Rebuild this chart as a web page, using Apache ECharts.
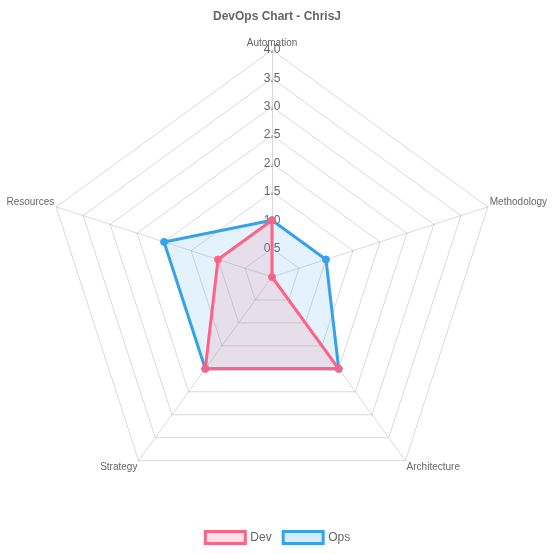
<!DOCTYPE html>
<html><head><meta charset="utf-8">
<script src="https://cdn.jsdelivr.net/npm/echarts@6/dist/echarts.min.js"></script>
<style>html,body{margin:0;padding:0;background:#fff}#c{width:554px;height:554px}</style>
</head><body><div id="c"></div>
<script>
const categories = ['Automation', 'Methodology', 'Architecture', 'Strategy', 'Resources'];
const devValues = [1, 0, 2, 2, 1];
const opsValues = [1, 1, 2, 2, 2];
const axisMax = 4;
const tickStep = 0.5;

// ECharts radar runs counter-clockwise; reorder so the categories go clockwise
const order = [0, 4, 3, 2, 1];
const pick = arr => order.map(i => arr[i]);
// label vertical nudges per category (Chart.js-like placement)
const nameStyle = { Automation: 'n', Methodology: 'up', Resources: 'up', Strategy: 'down', Architecture: 'down' };

const chart = echarts.init(document.getElementById('c'));
const font = '"Liberation Sans", Arial, Helvetica, sans-serif';
const gridColor = 'rgba(0,0,0,0.15)';
chart.setOption({
  animation: false,
  textStyle: { fontFamily: font },
  title: {
    text: 'DevOps Chart - ChrisJ', left: 'center', top: 6,
    textStyle: { fontSize: 12, fontWeight: 'bold', color: '#666', fontFamily: font }
  },
  legend: {
    bottom: 4, left: 'center', itemWidth: 40, itemHeight: 12, itemGap: 10,
    icon: 'rect',
    textStyle: { color: '#666', fontSize: 12, fontFamily: font },
    data: [
      { name: 'Dev', itemStyle: { color: 'rgba(255,99,132,0.2)', borderColor: 'rgb(255,99,132)', borderWidth: 3 } },
      { name: 'Ops', itemStyle: { color: 'rgba(54,162,235,0.2)', borderColor: 'rgb(54,162,235)', borderWidth: 3 } }
    ]
  },
  radar: {
    center: [272, 277], radius: 227, startAngle: 90, shape: 'polygon', splitNumber: axisMax / tickStep,
    indicator: pick(categories).map(n => ({ name: n, min: 0, max: axisMax })),
    axisName: {
      color: '#666', fontSize: 10, fontFamily: font,
      formatter: n => '{' + nameStyle[n] + '|' + n + '}',
      rich: {
        n: { color: '#666', fontSize: 10, fontFamily: font, padding: [0, 0, 0, 0] },
        up: { color: '#666', fontSize: 10, fontFamily: font, padding: [0, 0, 8, 0] },
        down: { color: '#666', fontSize: 10, fontFamily: font, padding: [9, 0, 0, 0] }
      }
    },
    nameGap: 2,
    splitLine: { lineStyle: { color: gridColor, width: 1 } },
    splitArea: { show: false },
    axisLine: { lineStyle: { color: gridColor, width: 1 } },
    axisTick: { show: false },
    axisLabel: { show: false }
  },
  polar: { center: [272, 277], radius: 227 },
  angleAxis: { show: false, startAngle: 90, min: 0, max: 360 },
  radiusAxis: {
    min: 0, max: axisMax, interval: tickStep,
    axisLine: { show: false }, axisTick: { show: false }, splitLine: { show: false },
    axisLabel: {
      color: '#666', fontSize: 12, fontFamily: font, margin: 0, align: 'center', verticalAlign: 'middle',
      padding: [6, 0, 0, 0],
      formatter: v => v === 0 ? '' : v.toFixed(1)
    },
    z: 1
  },
  series: [
    { type: 'scatter', coordinateSystem: 'polar', data: [], silent: true },
    {
      type: 'radar', z: 2,
      data: [
        {
          name: 'Ops', value: pick(opsValues), symbol: 'circle', symbolSize: 7,
          lineStyle: { color: 'rgb(54,162,235)', width: 3 },
          itemStyle: { color: 'rgb(54,162,235)', borderColor: 'rgb(54,162,235)', borderWidth: 1 },
          areaStyle: { color: 'rgba(54,162,235,0.2)' }
        },
        {
          name: 'Dev', value: pick(devValues), symbol: 'circle', symbolSize: 7,
          lineStyle: { color: 'rgb(255,99,132)', width: 3 },
          itemStyle: { color: 'rgb(255,99,132)', borderColor: 'rgb(255,99,132)', borderWidth: 1 },
          areaStyle: { color: 'rgba(255,99,132,0.2)' }
        }
      ]
    }
  ]
});
</script></body></html>
